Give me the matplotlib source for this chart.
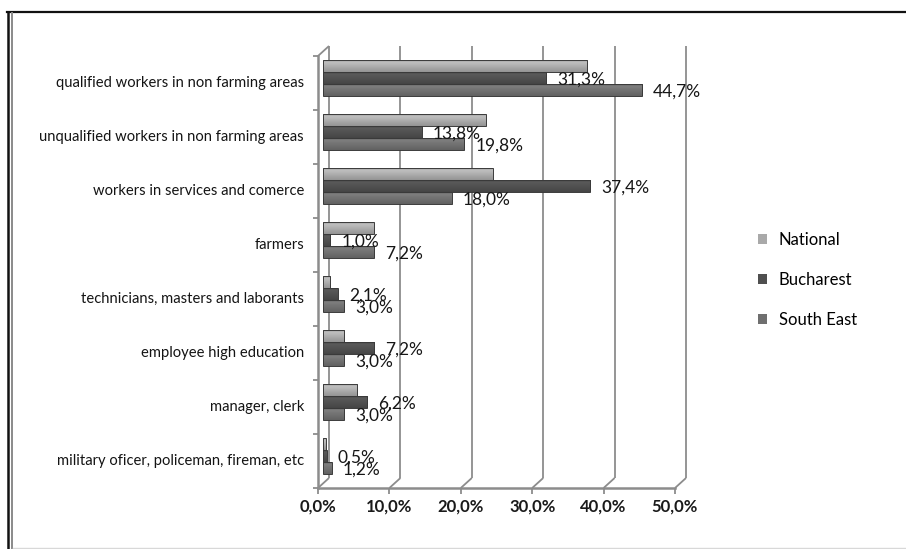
import numpy as np
import matplotlib.pyplot as plt
from matplotlib.lines import Line2D
from matplotlib.patches import Patch

plt.rcParams['font.family'] = ['Lato', 'DejaVu Sans']

# occupational structure (%), National / Bucharest / South East
categories = ["qualified workers in non farming areas",
              "unqualified workers in non farming areas",
              "workers in services and comerce",
              "farmers",
              "technicians, masters and laborants",
              "employee high education",
              "manager, clerk",
              "military oficer, policeman, fireman, etc"]
national = [37.0, 22.8, 23.8, 7.1, 1.0, 3.0, 4.8, 0.4]
bucharest = [31.3, 13.8, 37.4, 1.0, 2.1, 7.2, 6.2, 0.5]
south_east = [44.7, 19.8, 18.0, 7.2, 3.0, 3.0, 3.0, 1.2]
series = ["National", "Bucharest", "South East"]
x_ticks = [0, 10, 20, 30, 40, 50]

colors = ["#a9a9a9", "#4f4f4f", "#6f6f6f"]
grid_col = "#8c8c8c"

W, H = 906, 549
fig = plt.figure(figsize=(W / 100, H / 100), dpi=100)
fig.patch.set_facecolor("white")

# plotting box (bars sit half way in the depth of the fake 3d box)
left, right, top, bottom = 323, 680, 51, 483
ax = fig.add_axes([left / W, 1 - bottom / H, (right - left) / W, (bottom - top) / H])
ax.axis("off")

px_x = (right - left) / 50.0          # pixels per percent
px_y = (bottom - top) / len(categories)  # pixels per category
# depth offsets in data units: front plane and back wall
f_dx, f_dy = -5 / px_x, 5 / px_y
b_dx, b_dy = 6 / px_x, -5 / px_y
n = len(categories)

line_kw = dict(color=grid_col, lw=1.3, clip_on=False, solid_capstyle="butt")

# back wall gridlines + slanted floor connectors
for t in x_ticks:
    ax.plot([t + b_dx, t + b_dx], [-0.5 + b_dy, n - 0.5 + b_dy], **line_kw)
    ax.plot([t + f_dx, t + b_dx], [n - 0.5 + f_dy, n - 0.5 + b_dy], **line_kw)
    ax.plot([t + f_dx, t + f_dx], [n - 0.5 + f_dy, n - 0.5 + f_dy + 6 / px_y], **line_kw)
    ax.text(t + f_dx, n - 0.5 + f_dy + 11 / px_y, f"{t:.1f}%".replace(".", ","),
            ha="center", va="top", fontsize=12, fontweight="bold", color="#1a1a1a")

# front axes
ax.plot([f_dx, 50 + f_dx], [n - 0.5 + f_dy] * 2, color=grid_col, lw=1.8, clip_on=False)
ax.plot([f_dx, f_dx], [-0.5 + f_dy, n - 0.5 + f_dy], color=grid_col, lw=1.8, clip_on=False)
ax.plot([f_dx, b_dx], [-0.5 + f_dy, -0.5 + b_dy], **line_kw)
for k in range(n + 1):
    ax.plot([f_dx - 5 / px_x, f_dx], [k - 0.5 + f_dy] * 2, **line_kw)

for k, name in enumerate(categories):
    ax.text(f_dx - 14 / px_x, k + f_dy, name, ha="right", va="center",
            fontsize=10.6, color="#141414")

# bars with a vertical shading gradient
h = 0.22
shade = np.concatenate([np.linspace(0.92, 1.12, 4), np.linspace(1.12, 0.88, 16)])
for j, vals in enumerate([national, bucharest, south_east]):
    base = np.array([int(colors[j][i:i + 2], 16) for i in (1, 3, 5)]) / 255.0
    grad = np.clip(shade[:, None, None] * base[None, None, :], 0, 1)
    for k, v in enumerate(vals):
        y = k + (j - 1) * h
        ax.imshow(grad, extent=(0, v, y + h / 2, y - h / 2), aspect="auto",
                  interpolation="bilinear", zorder=3)
        ax.barh(y, v, height=h, fill=False, edgecolor="#3a3a3a", lw=0.7, zorder=4)
        if j > 0:
            ax.annotate(f"{v:.1f}%".replace(".", ","), xy=(v, y), xytext=(11, -2),
                        textcoords="offset pixels", ha="left", va="center",
                        fontsize=12.5, color="#161616", zorder=5)

ax.set_xlim(0, 50)
ax.set_ylim(n - 0.5, -0.5)

handles = [Patch(facecolor=c, edgecolor="none") for c in colors]
fig.legend(handles, series, loc="upper left", bbox_to_anchor=(743 / W, 1 - 217 / H),
           frameon=False, fontsize=12, handlelength=0.55, handleheight=0.55,
           handletextpad=0.7, labelspacing=1.45)

# outer frame of the chart area
fig.add_artist(Line2D([7 / W, 1], [1 - 12 / H] * 2, color="#111111", lw=1.6))
fig.add_artist(Line2D([8 / W] * 2, [0, 1 - 12 / H], color="#111111", lw=1.8))
fig.add_artist(Line2D([11.5 / W] * 2, [0, 1 - 13 / H], color="#8a8a8a", lw=1.4))
fig.add_artist(Line2D([13 / W, 1], [1 - 547.5 / H] * 2, color="#d8d8d8", lw=1.0))

fig.savefig("out.png", dpi=100)
